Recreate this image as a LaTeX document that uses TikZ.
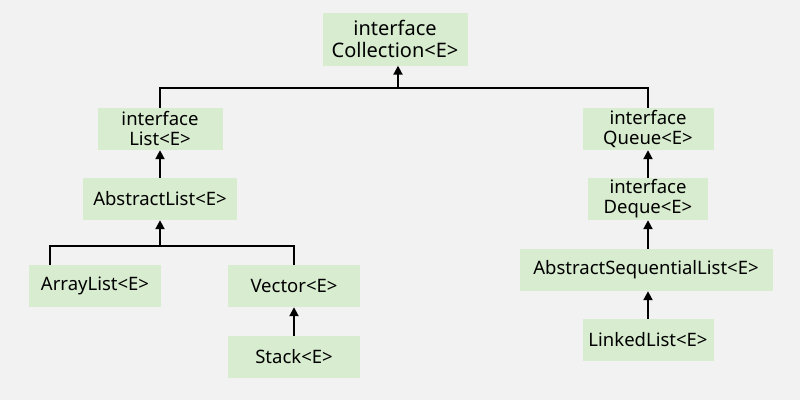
\documentclass[tikz,border=0pt]{standalone}
\usepackage{fontspec}
\setmainfont{Noto Sans}
\usetikzlibrary{arrows.meta}
\definecolor{bg}{HTML}{F2F2F2}
\definecolor{boxg}{HTML}{D8ECCF}
\begin{document}
\begin{tikzpicture}[x=1pt,y=-1pt,
  box/.style={fill=boxg,inner sep=0pt,align=center,font=\fontsize{18.5}{20}\selectfont},
  ln/.style={line width=2pt},
  ar/.style={line width=2pt,-{Triangle[length=9pt,width=9pt]}}]
\fill[bg] (0,0) rectangle (800,400);
\useasboundingbox (0,0) rectangle (800,400);
\node[box,minimum width=145pt,minimum height=53pt,font=\fontsize{20}{22}\selectfont] (col) at (395,39) {interface\\Collection<E>};
\node[box,minimum width=125pt,minimum height=42pt] (list) at (160,129) {interface\\List<E>};
\node[box,minimum width=154pt,minimum height=42pt] (abs) at (160,199) {AbstractList<E>};
\node[box,minimum width=132pt,minimum height=42pt] (arr) at (95,286) {ArrayList<E>};
\node[box,minimum width=132pt,minimum height=42pt] (vec) at (294,286) {Vector<E>};
\node[box,minimum width=132pt,minimum height=42pt] (stk) at (294,357) {Stack<E>};
\node[box,minimum width=131pt,minimum height=42pt] (que) at (648,129) {interface\\Queue<E>};
\node[box,minimum width=120pt,minimum height=42pt] (deq) at (648,199) {interface\\Deque<E>};
\node[box,minimum width=253pt,minimum height=42pt] (asl) at (646,270) {AbstractSequentialList<E>};
\node[box,minimum width=131pt,minimum height=42pt] (lnk) at (648,340) {LinkedList<E>};
\coordinate (j1) at (398,88);
\coordinate (j2) at (160,246);
\draw[ln] (list.north) |- (j1) -| (que.north);
\draw[ar] (j1) -- (j1 |- col.south);
\draw[ar] (abs.north) -- (list.south);
\draw[ln] (arr.north -| 50,0) |- (j2) -| (vec.north);
\draw[ar] (j2) -- (abs.south);
\draw[ar] (stk.north) -- (vec.south);
\draw[ar] (deq.north) -- (que.south);
\draw[ar] (asl.north -| deq.south) -- (deq.south);
\draw[ar] (lnk.north) -- (lnk.north |- asl.south);
\end{tikzpicture}
\end{document}
